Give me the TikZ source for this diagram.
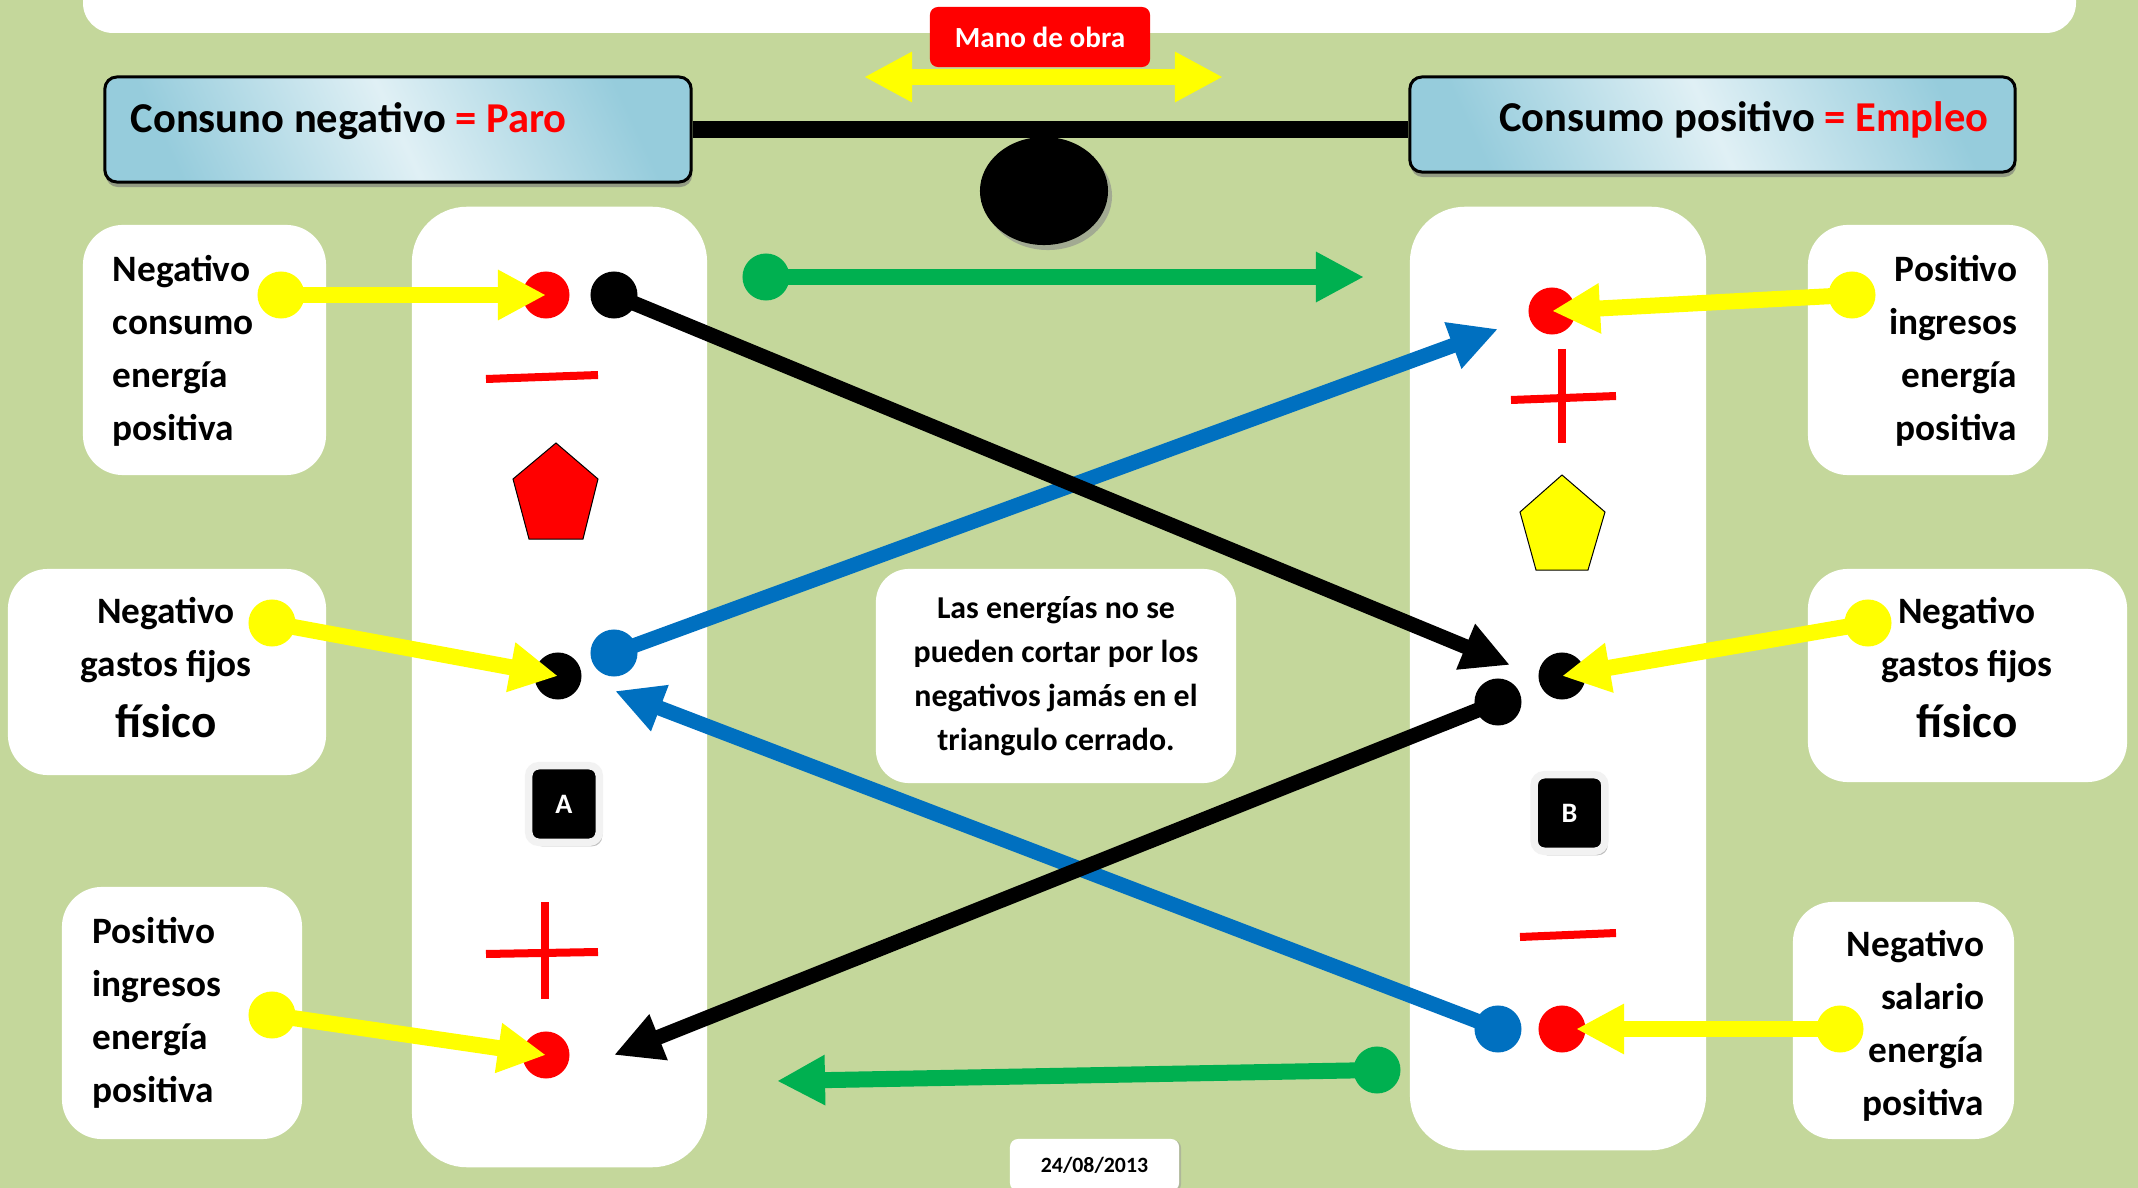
\documentclass[tikz,border=0pt]{standalone}
\usepackage{fontspec}
\setmainfont{Carlito}
\usetikzlibrary{arrows.meta,shapes.geometric,shadows}
\definecolor{bg}{RGB}{196,215,155}
\definecolor{xblue}{RGB}{0,112,192}
\definecolor{xgreen}{RGB}{0,176,80}
\definecolor{xred}{RGB}{255,0,0}
\definecolor{xyellow}{RGB}{255,255,0}
\definecolor{hdark}{RGB}{150,204,220}
\definecolor{hlight}{RGB}{224,240,245}
\definecolor{keygrey}{RGB}{242,242,242}
\begin{document}
\begin{tikzpicture}[x=0.01cm,y=-0.01cm,
  card/.style={fill=white, rounded corners=0.4cm, inner sep=0},
  column/.style={fill=white, rounded corners=0.55cm, inner sep=0},
  header/.style={draw=black, line width=0.03cm, rounded corners=0.12cm,
     left color=hdark, right color=hdark, middle color=hlight, shading angle=115,
     drop shadow={shadow xshift=0.01cm, shadow yshift=-0.05cm, fill=black!55, opacity=0.6}, inner sep=0},
  htxt/.style={font=\bfseries\fontsize{12.1}{14}\selectfont, inner sep=0},
  txt/.style={font=\bfseries\fontsize{10.6}{15.1}\selectfont, inner sep=0},
  big/.style={font=\bfseries\fontsize{13.4}{15.1}\selectfont},
  dot/.style={circle, minimum size=0.47cm, inner sep=0},
  yarr/.style={draw=xyellow, line width=0.16cm, -{Triangle[length=0.48cm,width=0.47cm]}},
  ydbl/.style={draw=xyellow, line width=0.16cm, {Triangle[length=0.48cm,width=0.47cm]}-{Triangle[length=0.48cm,width=0.47cm]}},
  garr/.style={draw=xgreen, line width=0.16cm, -{Triangle[length=0.48cm,width=0.47cm]}},
  karr/.style={draw=black, line width=0.15cm, -{Triangle[length=0.48cm,width=0.46cm]}},
  barr/.style={draw=xblue, line width=0.15cm, -{Triangle[length=0.48cm,width=0.46cm]}},
  sign/.style={draw=xred, line width=0.08cm},
  keycap/.style={fill=black, draw=keygrey, line width=0.075cm, rounded corners=0.1cm,
     minimum width=0.705cm, minimum height=0.765cm, text=white, inner sep=0,
     font=\bfseries\fontsize{8}{9}\selectfont,
     drop shadow={shadow xshift=0.03cm, shadow yshift=-0.04cm, fill=black!50, opacity=0.5}},
]
\useasboundingbox (0,0) rectangle (2138,1188);
\fill[bg] (0,0) rectangle (2138,1188);

% top white bar
\fill[white, rounded corners=0.3cm] (83,-60) rectangle (2076,33);

% mano de obra
\node[fill=xred, text=white, rounded corners=0.08cm, minimum width=2.2cm, minimum height=0.6cm,
      inner sep=0, font=\bfseries\fontsize{8.3}{10}\selectfont] (mano) at (1040,37) {Mano de obra};
\coordinate (ml) at (864,77);
\coordinate (mr) at (1223,77);
\draw[ydbl] (ml) -- (mr);

% headers and balance
\node[header, minimum width=5.86cm, minimum height=1.05cm] (HL) at (398,129.5) {};
\node[header, minimum width=6.05cm, minimum height=0.95cm] (HR) at (1712.5,124.5) {};
\draw[line width=0.16cm] (HL.east) -- (HL.east -| HR.west);
\node[ellipse, fill=black, minimum width=1.28cm, minimum height=1.08cm, inner sep=0,
      drop shadow={shadow xshift=0.04cm, shadow yshift=-0.05cm, fill=black!45, opacity=0.6}] (fulcrum) at (1044,191) {};
\node[htxt, anchor=base west] (HLt) at (130,133) {Consuno negativo {\color{xred}= Paro}};
\node[htxt, anchor=base east] (HRt) at (1989,132) {Consumo positivo {\color{xred}= Empleo}};

% columns
\node[column, minimum width=2.95cm, minimum height=9.60cm] (colL) at (559.5,687) {};
\node[column, minimum width=2.96cm, minimum height=9.43cm] (colR) at (1558,678.5) {};

% side cards
\node[card, minimum width=2.43cm, minimum height=2.50cm] (L1) at (204.5,350) {};
\node[card, minimum width=3.18cm, minimum height=2.06cm] (L2) at (167,672) {};
\node[card, minimum width=2.40cm, minimum height=2.52cm] (L3) at (182,1013) {};
\node[card, minimum width=2.40cm, minimum height=2.50cm] (R1) at (1928,350) {};
\node[card, minimum width=3.19cm, minimum height=2.13cm] (R2) at (1967.5,675.5) {};
\node[card, minimum width=2.21cm, minimum height=2.37cm] (R3) at (1903.5,1020.5) {};

\node[txt, anchor=west, align=left] (L1t) at (112,350.5) {Negativo\\consumo\\energía\\positiva};
\node[txt, align=center] (L2t) at (166,667.5) {Negativo\\gastos fijos\\[2.3pt]{\fontsize{13.4}{15.1}\selectfont físico}};
\node[txt, anchor=west, align=left] (L3t) at (92,1013) {Positivo\\ingresos\\energía\\positiva};
\node[txt, anchor=east, align=right] (R1t) at (2018,350.5) {Positivo\\ingresos\\energía\\positiva};
\node[txt, align=center] (R2t) at (1967,667.5) {Negativo\\gastos fijos\\[2.3pt]{\fontsize{13.4}{15.1}\selectfont físico}};
\node[txt, anchor=east, align=right] (R3t) at (1985,1026) {Negativo\\salario\\energía\\positiva};

% centre note
\node[fill=white, rounded corners=0.33cm, minimum width=3.60cm, minimum height=2.14cm, inner sep=0,
      align=center, font=\bfseries\fontsize{9.06}{12.5}\selectfont] (note) at (1056,676)
      {Las energías no se\\pueden cortar por los\\negativos jamás en el\\triangulo cerrado.};

% date
\node[fill=white, rounded corners=0.08cm, minimum width=1.69cm, minimum height=0.52cm, inner sep=0,
      font=\bfseries\fontsize{6.2}{8}\selectfont,
      drop shadow={shadow xshift=0.02cm, shadow yshift=-0.01cm, fill=black!40, opacity=0.5}] (date) at (1094.5,1165) {24/08/2013};

% signs and shapes left
\draw[sign] (486,379) -- (598,375);
\draw[fill=xred, draw=black, line width=0.01cm] (556,443) -- (598,479) -- (583,539) -- (529,539) -- (513,479) -- cycle;
\draw[sign] (545,902) -- (545,999);
\draw[sign] (486,954) -- (598,952);
\node[keycap] (keyA) at (564,804) {A};

% signs and shapes right
\draw[sign] (1562,349) -- (1562,443);
\draw[sign] (1511,400) -- (1616,396);
\draw[fill=xyellow, draw=black, line width=0.01cm] (1562,475) -- (1605,512) -- (1588,570) -- (1536,570) -- (1520,512) -- cycle;
\node[keycap] (keyB) at (1569.5,813) {B};
\draw[sign] (1520,937) -- (1616,933);

% dots
\node[dot, fill=xyellow] (yL1) at (281,295) {};
\node[dot, fill=xred] (rL1) at (546,295) {};
\node[dot, fill=black] (kL1) at (614,295) {};
\node[dot, fill=xyellow] (yL2) at (272,623) {};
\node[dot, fill=black] (kL2) at (558,676) {};
\node[dot, fill=xblue] (bL2) at (614,653) {};
\node[dot, fill=xyellow] (yL3) at (272,1015) {};
\node[dot, fill=xred] (rL3) at (546,1055) {};
\node[dot, fill=xgreen] (gT) at (766,277) {};
\node[dot, fill=xred] (rR1) at (1552,311) {};
\node[dot, fill=xyellow] (yR1) at (1852,295) {};
\node[dot, fill=black] (kR2) at (1562,676) {};
\node[dot, fill=black] (kR2b) at (1498,702) {};
\node[dot, fill=xyellow] (yR2) at (1868,623) {};
\node[dot, fill=xblue] (bR3) at (1498,1029) {};
\node[dot, fill=xred] (rR3) at (1562,1029) {};
\node[dot, fill=xyellow] (yR3) at (1840,1029) {};
\node[dot, fill=xgreen] (gB) at (1377,1070) {};

% arrow end points
\coordinate (gTend) at (1364,277);
\coordinate (gBend) at (777,1081);
\coordinate (k1end) at (1510,665);
\coordinate (k2end) at (614,1055);
\coordinate (b1end) at (1498,329);
\coordinate (b2end) at (615,691);

% yellow arrows
\draw[yarr] (yL1.center) -- (rL1.center);
\draw[yarr] (yL2.center) -- (kL2.center);
\draw[yarr] (yL3.center) -- (rL3.center);
\draw[yarr] (yR1.center) -- (rR1.center);
\draw[yarr] (yR2.center) -- (kR2.center);
\draw[yarr, shorten >=0.14cm] (yR3.center) -- (rR3.center);

% green arrows
\draw[garr] (gT.center) -- (gTend);
\draw[garr] (gB.center) -- (gBend);

% blue then black arrows
\draw[barr] (bL2.center) -- (b1end);
\draw[barr] (bR3.center) -- (b2end);
\draw[karr] (kL1.center) -- (k1end);
\draw[karr] (kR2b.center) -- (k2end);
\end{tikzpicture}
\end{document}
